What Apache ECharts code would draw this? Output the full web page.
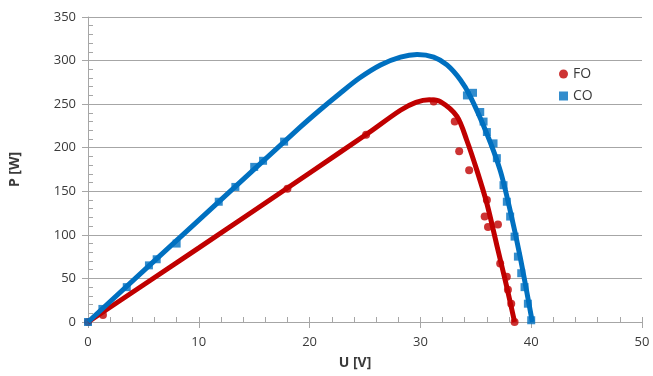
<!DOCTYPE html>
<html>
<head>
<meta charset="utf-8">
<script src="https://cdn.jsdelivr.net/npm/echarts@6/dist/echarts.min.js"></script>
<style>
  html, body { margin: 0; padding: 0; background: #fff; }
  #chart { width: 653px; height: 376px; }
</style>
</head>
<body>
<div id="chart"></div>
<script>
// measured points [U, P]
const foPoints = [
  [0, 0], [1.35, 8], [18.0, 153], [25.1, 215], [31.2, 253],
  [33.1, 230], [33.5, 196], [34.4, 174], [35.8, 121], [36.0, 140],
  [36.1, 109], [37.0, 112], [37.2, 67], [37.8, 52], [37.9, 37],
  [38.2, 21], [38.5, 0]
];
const coPoints = [
  [0, 0], [1.3, 15], [3.5, 40], [5.5, 65], [6.2, 72], [8.0, 90],
  [11.8, 138], [13.3, 155], [15.0, 178], [15.8, 185], [17.7, 207],
  [34.2, 260], [34.75, 263], [35.4, 241], [35.7, 230], [36.0, 218],
  [36.6, 205], [36.9, 188], [37.5, 157], [37.8, 138], [38.1, 121],
  [38.5, 98], [38.8, 75], [39.1, 56], [39.4, 40], [39.7, 21], [40.0, 2]
];
// fitted curves
const foCurve = [
  [0, 0], [10, 85], [20, 171], [25.2, 216], [28.2, 243], [29.6, 252],
  [30.8, 255], [31.8, 253], [33.3, 236], [34.2, 208], [35.1, 174],
  [36, 136], [36.9, 88], [37.8, 40], [38.5, 0]
];
const coCurve = [
  [0, 0], [10, 117], [19.1, 223], [20.9, 243], [22.7, 262], [24.5, 280],
  [26.4, 295], [28.2, 304], [29.7, 307], [31.2, 304], [32.4, 295],
  [33.6, 278], [34.5, 259], [36, 216], [37.2, 174], [38.1, 128],
  [39, 75], [40.1, 0]
];

const RED = '#c00000';
const BLUE = '#0070c0';
const GRID_GRAY = '#a6a6a6';
const TEXT = '#3a3a3a';

const chart = echarts.init(document.getElementById('chart'));

const xBase = { type: 'value', min: 0, max: 50, interval: 10, gridIndex: 0 };
const yBase = { type: 'value', min: 0, max: 350, interval: 50, gridIndex: 0 };

chart.setOption({
  animation: false,
  grid: { left: 88, right: 11, top: 17, bottom: 54 },
  legend: {
    orient: 'vertical',
    left: 554,
    top: 62,
    itemGap: 8,
    itemWidth: 9,
    itemHeight: 9,
    textStyle: { fontFamily: 'Open Sans', fontSize: 14, color: TEXT },
    data: [
      { name: 'FO', icon: 'circle' },
      { name: 'CO', icon: 'rect' }
    ]
  },
  xAxis: [
    Object.assign({}, xBase, {
      name: 'U [V]',
      nameLocation: 'middle',
      nameGap: 34,
      nameTextStyle: { fontFamily: 'Open Sans', fontWeight: 'bold', fontSize: 14, color: TEXT, padding: [0, 20, 0, 0] },
      axisLine: { lineStyle: { color: GRID_GRAY, width: 1 } },
      axisTick: { show: true, length: 6, lineStyle: { color: GRID_GRAY } },
      axisLabel: { margin: 14, fontFamily: 'Open Sans', fontSize: 13, color: TEXT },
      splitLine: { show: false }
    }),
    Object.assign({}, xBase, {
      position: 'bottom',
      axisLine: { show: false },
      axisLabel: { show: false },
      axisTick: { show: true, inside: true, length: 5, lineStyle: { color: GRID_GRAY } },
      minorTick: { show: true, splitNumber: 5, length: 5, lineStyle: { color: GRID_GRAY } },
      splitLine: { show: false }
    })
  ],
  yAxis: [
    Object.assign({}, yBase, {
      name: 'P [W]',
      nameLocation: 'middle',
      nameGap: 66,
      nameRotate: 90,
      nameTextStyle: { fontFamily: 'Open Sans', fontWeight: 'bold', fontSize: 14, color: TEXT },
      axisLine: { show: true, lineStyle: { color: GRID_GRAY, width: 1 } },
      axisTick: { show: true, length: 6, lineStyle: { color: GRID_GRAY } },
      axisLabel: { margin: 12, fontFamily: 'Open Sans', fontSize: 13, color: TEXT },
      splitLine: { show: true, lineStyle: { color: GRID_GRAY, width: 1 } }
    }),
    Object.assign({}, yBase, {
      position: 'left',
      axisLine: { show: false },
      axisLabel: { show: false },
      axisTick: { show: false, inside: true, length: 5, lineStyle: { color: GRID_GRAY } },
      minorTick: { show: true, splitNumber: 5, length: 5, lineStyle: { color: GRID_GRAY } },
      splitLine: { show: false }
    })
  ],
  series: [
    {
      name: 'FO',
      type: 'scatter',
      data: foPoints,
      symbol: 'circle',
      symbolSize: 8,
      itemStyle: { color: RED },
      z: 2
    },
    {
      name: 'CO',
      type: 'scatter',
      data: coPoints,
      symbol: 'rect',
      symbolSize: 8,
      itemStyle: { color: BLUE },
      z: 2
    },
    {
      name: 'FO fit',
      type: 'line',
      data: foCurve,
      smooth: 0.3,
      showSymbol: false,
      lineStyle: { color: RED, width: 5 },
      z: 3
    },
    {
      name: 'CO fit',
      type: 'line',
      data: coCurve,
      smooth: 0.3,
      showSymbol: false,
      lineStyle: { color: BLUE, width: 5 },
      z: 3
    }
  ]
});
</script>
</body>
</html>
